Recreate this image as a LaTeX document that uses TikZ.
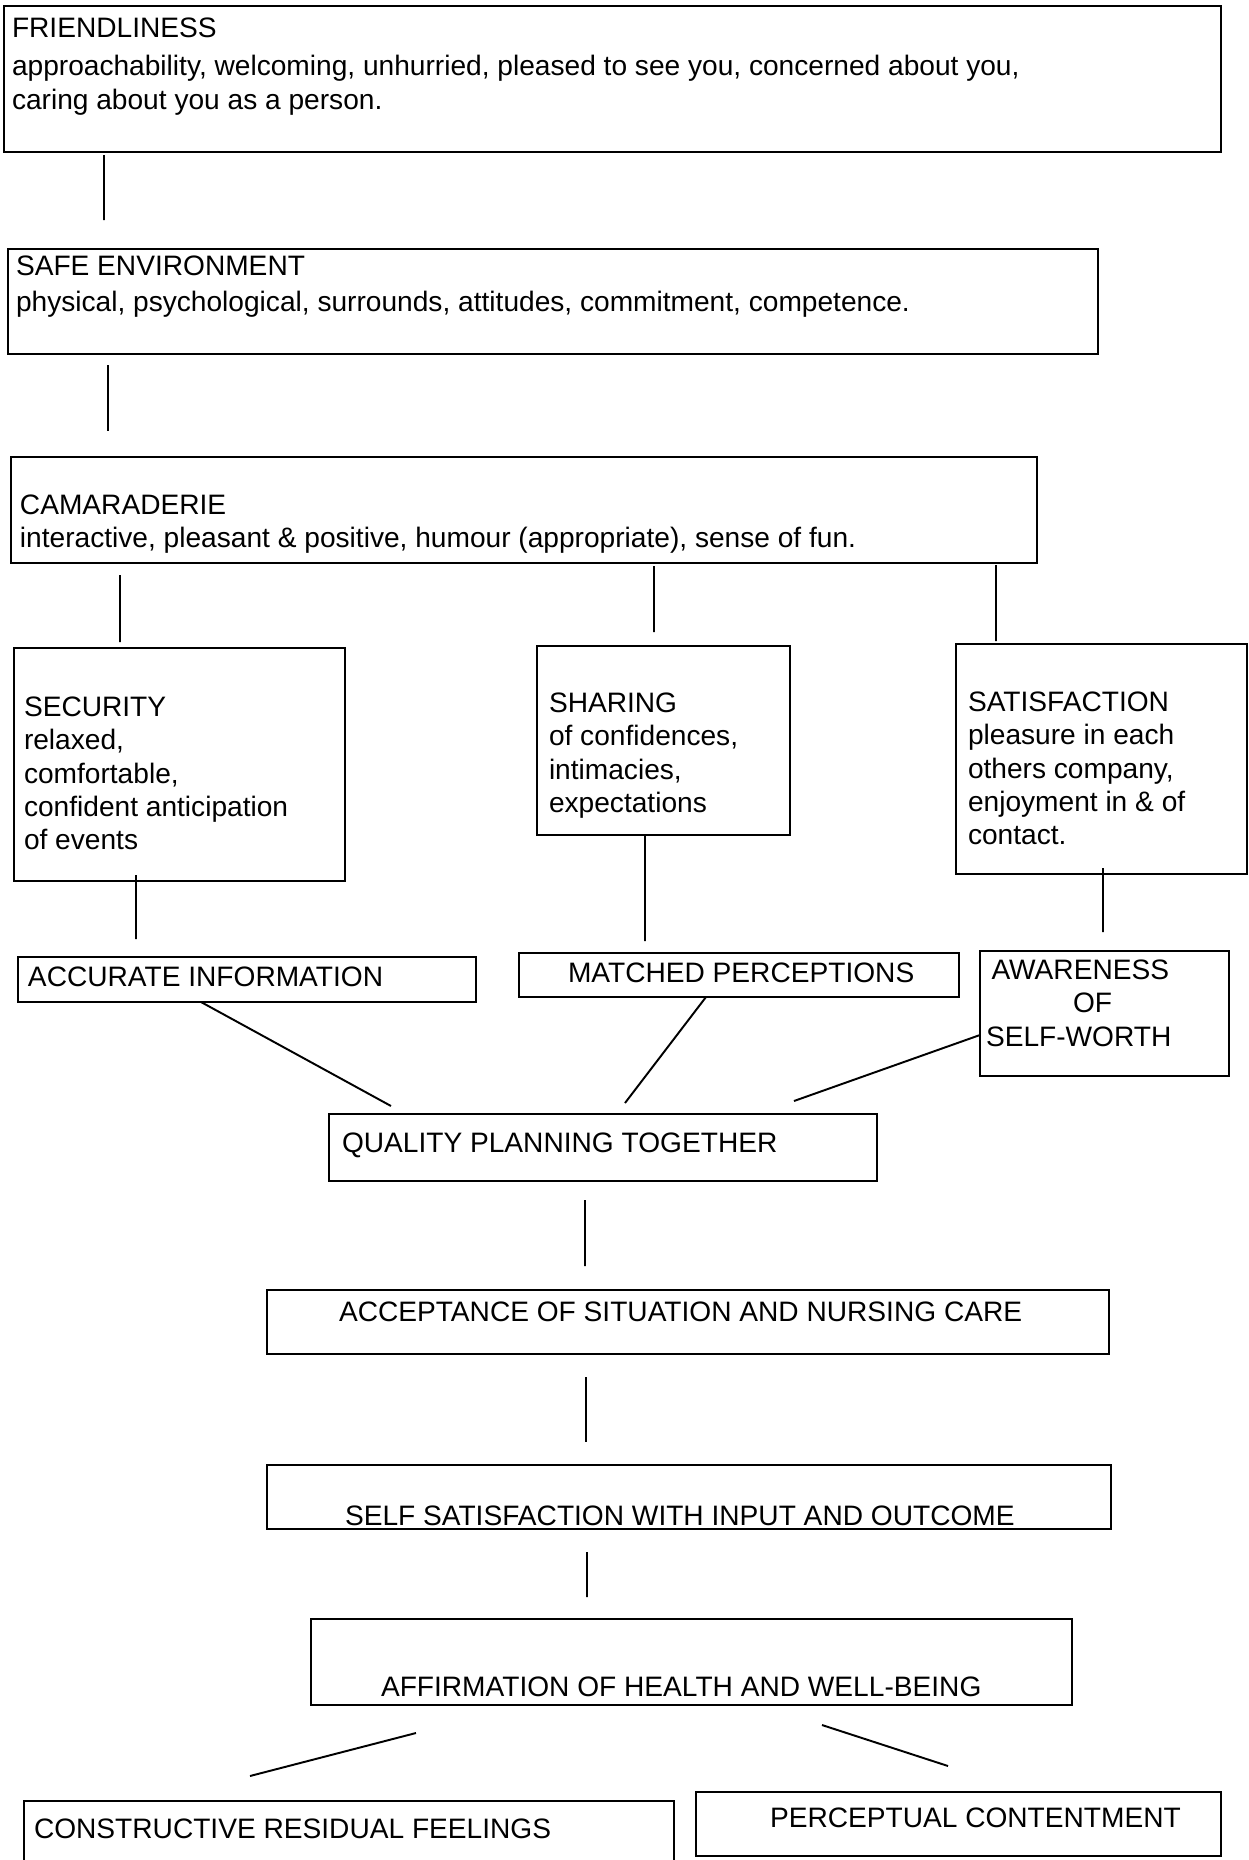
\documentclass[tikz,border=0pt]{standalone}
\usepackage{fontspec}
\setmainfont{Liberation Sans}
\usetikzlibrary{positioning,calc}
\newcommand{\boxtext}[5]{\begin{minipage}[t][#2][t]{#1}\vspace*{#4}\raggedright\leftskip=#3\relax #5\end{minipage}}

\begin{document}
\begin{tikzpicture}[x=0.1mm, y=-0.1mm,
                    care box/.style={rectangle, draw, line width=0.75pt, anchor=north west, inner sep=0pt, outer sep=0pt, font=\fontsize{8}{9.45}\selectfont},
                    care link/.style={line width=0.55pt}]

    \useasboundingbox (0,0) rectangle (1249,1860);

    \node [care box] (fr) at (4,6) {\boxtext{121.7mm}{14.6mm}{0.8mm}{1.2mm}{FRIENDLINESS\\[0.5mm]approachability, welcoming, unhurried, pleased to see you, concerned about you,\\caring about you as a person.}};
    \node [care box] (safe) at (8,249) {\boxtext{109.0mm}{10.5mm}{0.8mm}{0.7mm}{SAFE ENVIRONMENT\\[0.3mm]physical, psychological, surrounds, attitudes, commitment, competence.}};
    \node [care box] (cam) at (11,457) {\boxtext{102.6mm}{10.6mm}{0.9mm}{3.8mm}{CAMARADERIE\\interactive, pleasant \& positive, humour (appropriate), sense of fun.}};

    \node [care box] (sec) at (14,648) {\boxtext{33.1mm}{23.3mm}{1.0mm}{4.9mm}{SECURITY\\relaxed,\\comfortable,\\confident anticipation\\of events}};
    \node [care box] (shr) at (537,646) {\boxtext{25.3mm}{18.9mm}{1.2mm}{4.7mm}{SHARING\\of confidences,\\intimacies,\\expectations}};
    \node [care box] (sat) at (956,644) {\boxtext{29.1mm}{23.0mm}{1.2mm}{4.8mm}{SATISFACTION\\pleasure in each\\others company,\\enjoyment in \& of\\contact.}};

    \node [care box] (acc) at (18,957) {\boxtext{45.8mm}{4.5mm}{1.0mm}{1.0mm}{ACCURATE INFORMATION}};
    \node [care box] (mat) at (519,953) {\boxtext{44.0mm}{4.4mm}{4.9mm}{1.0mm}{MATCHED PERCEPTIONS}};
    \node [care box] (awa) at (980,951) {\boxtext{24.9mm}{12.5mm}{0.6mm}{0.9mm}{\hspace*{0.55mm}AWARENESS\\\hspace*{8.7mm}OF\\SELF-WORTH}};

    \node [care box] (qpt) at (329,1114) {\boxtext{54.8mm}{6.7mm}{1.3mm}{1.9mm}{QUALITY PLANNING TOGETHER}};
    \node [care box] (acp) at (267,1290) {\boxtext{84.2mm}{6.4mm}{7.2mm}{1.2mm}{ACCEPTANCE OF SITUATION AND NURSING CARE}};
    \node [care box] (ssf) at (267,1465) {\boxtext{84.4mm}{6.4mm}{7.8mm}{4.1mm}{SELF SATISFACTION WITH INPUT AND OUTCOME}};
    \node [care box] (aff) at (311,1619) {\boxtext{76.1mm}{8.6mm}{7.0mm}{5.8mm}{AFFIRMATION OF HEALTH AND WELL-BEING}};

    \node [care box] (crf) at (24,1801) {\boxtext{65.0mm}{8.0mm}{1.0mm}{1.8mm}{CONSTRUCTIVE RESIDUAL FEELINGS}};
    \node [care box] (pcn) at (696,1792) {\boxtext{52.5mm}{6.4mm}{7.4mm}{1.6mm}{PERCEPTUAL CONTENTMENT}};

    \draw [care link] ([xshift=10.0mm, yshift=-0.3mm]fr.south west) -- ([xshift=9.6mm, yshift=2.9mm]safe.north west);
    \draw [care link] ([xshift=10.0mm, yshift=-1.1mm]safe.south west) -- ([xshift=9.7mm, yshift=2.6mm]cam.north west);

    \draw [care link] ([xshift=10.9mm, yshift=-1.2mm]cam.south west) -- ([xshift=10.6mm, yshift=0.6mm]sec.north west);
    \draw [care link] ([xshift=64.3mm, yshift=-0.3mm]cam.south west) -- ([xshift=11.7mm, yshift=1.4mm]shr.north west);
    \draw [care link] ([xshift=98.5mm, yshift=-0.2mm]cam.south west) -- ([xshift=4.0mm, yshift=0.3mm]sat.north west);

    \draw [care link] ([xshift=12.2mm, yshift=0.6mm]sec.south west) -- ([xshift=11.8mm, yshift=1.8mm]acc.north west);
    \draw [care link] ([xshift=10.8mm]shr.south west) -- ([xshift=12.6mm, yshift=1.2mm]mat.north west);
    \draw [care link] ([xshift=14.7mm, yshift=0.6mm]sat.south west) -- ([xshift=12.3mm, yshift=1.9mm]awa.north west);

    \draw [care link] ([xshift=18.3mm]acc.south west) -- ([xshift=6.2mm, yshift=0.8mm]qpt.north west);
    \draw [care link] ([xshift=18.7mm]mat.south west) -- ([xshift=29.6mm, yshift=1.1mm]qpt.north west);
    \draw [care link] ([yshift=4.1mm]awa.south west) -- ([xshift=46.5mm, yshift=1.3mm]qpt.north west);

    \draw [care link] ([xshift=25.6mm, yshift=-1.9mm]qpt.south west) -- ([xshift=31.8mm, yshift=2.4mm]acp.north west);
    \draw [care link] ([xshift=31.9mm, yshift=-2.3mm]acp.south west) -- ([xshift=31.9mm, yshift=2.3mm]ssf.north west);
    \draw [care link] ([xshift=32.0mm, yshift=-2.3mm]ssf.south west) -- ([xshift=27.6mm, yshift=2.2mm]aff.north west);

    \draw [care link] ([xshift=10.5mm, yshift=-2.8mm]aff.south west) -- ([xshift=22.6mm, yshift=2.5mm]crf.north west);
    \draw [care link] ([xshift=51.1mm, yshift=-2.0mm]aff.south west) -- ([xshift=25.2mm, yshift=2.6mm]pcn.north west);

\end{tikzpicture}
\end{document}
